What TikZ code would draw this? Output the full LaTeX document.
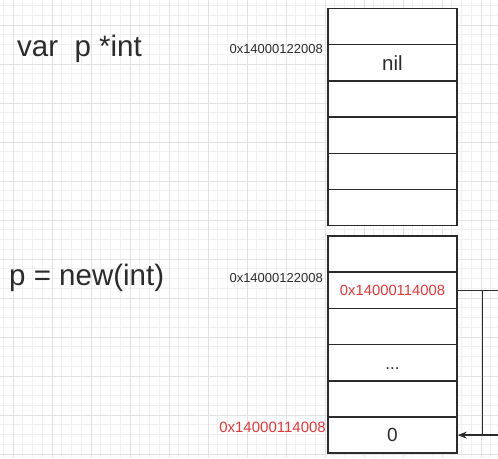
\documentclass[tikz,border=0pt]{standalone}
\usepackage{fontspec}
\setmainfont{Liberation Sans}
\usetikzlibrary{arrows.meta}
\definecolor{ink}{HTML}{2B2B2B}
\definecolor{addrred}{HTML}{D63B3D}
\definecolor{gridminor}{HTML}{F0F0F0}
\definecolor{gridmajor}{HTML}{E2E2E2}
\tikzset{
  cell/.style={draw=ink, line width=1.5pt, minimum width=129pt, minimum height=36.2pt, inner sep=0pt, text=ink, font=\fontsize{20.5}{22}\selectfont},
  bigtext/.style={text=ink, font=\fontsize{29.5}{32}\selectfont, inner sep=0pt, anchor=west},
  addr/.style={text=ink, font=\fontsize{13}{14}\selectfont, inner sep=0pt, anchor=east},
  redaddr/.style={text=addrred, font=\fontsize{15}{16}\selectfont, inner sep=0pt},
  conn/.style={draw=ink, line width=1.3pt},
  minorgrid/.style={draw=gridminor, line width=0.8pt},
  majorgrid/.style={draw=gridmajor, line width=1pt}
}
\begin{document}
\begin{tikzpicture}[x=1pt,y=-1pt]
\useasboundingbox (0,0) rectangle (498,458);
\fill[white] (0,0) rectangle (498,458);
% grid
\foreach \k in {0,...,51} \draw[minorgrid] ({3.25+9.75*\k},0) -- ++(0,458);
\foreach \k in {0,...,47} \draw[minorgrid] (0,{5.5+9.75*\k}) -- ++(498,0);
\foreach \k in {0,...,12} \draw[majorgrid] ({13+39*\k},0) -- ++(0,458);
\foreach \k in {0,...,11} \draw[majorgrid] (0,{25+39*\k}) -- ++(498,0);
% white backs of the memory blocks
\fill[white] (328,8.5) rectangle (457,225.7);
\fill[white] (328,236) rectangle (457,453.2);
% top memory block
\node[cell] (a1) at (392.5,26.6) {};
\node[cell] (a2) at (392.5,62.8) {nil};
\node[cell] (a3) at (392.5,99.0) {};
\node[cell] (a4) at (392.5,135.2) {};
\node[cell] (a5) at (392.5,171.4) {};
\node[cell] (a6) at (392.5,207.6) {};
% bottom memory block
\node[cell] (b1) at (392.5,254.1) {};
\node[cell, text=addrred, font=\fontsize{14.8}{16}\selectfont] (b2) at (392.5,290.3) {0x14000114008};
\node[cell] (b3) at (392.5,326.5) {};
\node[cell] (b4) at (392.5,362.7) {};
\node[cell] (b5) at (392.5,398.9) {};
\node[cell, font=\fontsize{19}{20}\selectfont] (b6) at (392.5,435.1) {0};
\node[text=ink, font=\fontsize{17}{19}\selectfont, inner sep=0pt, anchor=base] (dots) at (392.5,369.5) {...};
% labels
\node[bigtext] (t1) at (17,49) {var\ \ p *int};
\node[bigtext] (t2) at (9,278) {p = new(int)};
\node[addr] (l1) at (323,49) {0x14000122008};
\node[addr] (l2) at (323,278) {0x14000122008};
\node[redaddr, anchor=east] (l3) at (326,427) {0x14000114008};
% connector
\coordinate (r1) at (498,290.3);
\coordinate (r2) at (498,435.1);
\coordinate (v1) at (482.5,290.3);
\coordinate (v2) at (482.5,435.1);
\draw[conn] (b2.east) -- (r1);
\draw[conn] (v1) -- (v2);
\draw[conn, -{Stealth[length=9pt,width=7pt]}] (r2) -- (b6.east);
\end{tikzpicture}
\end{document}
